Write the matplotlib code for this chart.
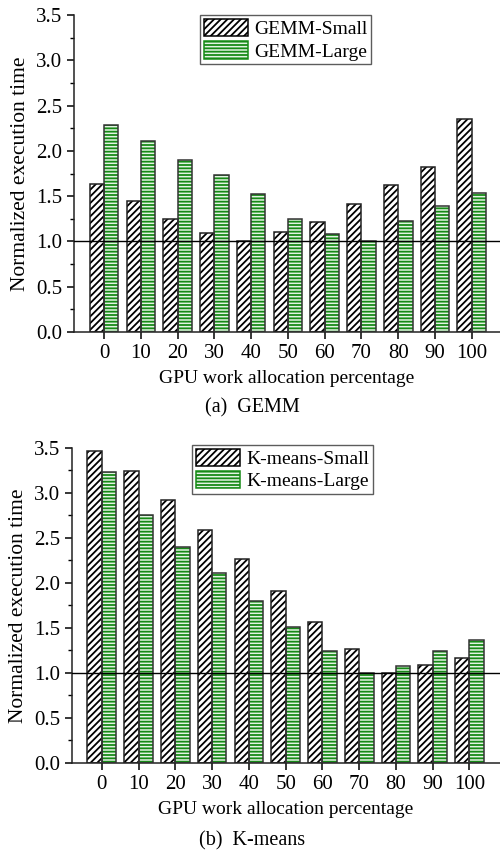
import numpy as np
import matplotlib.pyplot as plt
from matplotlib.ticker import MultipleLocator

plt.rcParams['font.family'] = ['Liberation Serif', 'DejaVu Serif']
plt.rcParams['hatch.linewidth'] = 1.3

# Data
pct = [0, 10, 20, 30, 40, 50, 60, 70, 80, 90, 100]
gemm_small = [1.63, 1.45, 1.25, 1.09, 1.00, 1.10, 1.21, 1.41, 1.62, 1.82, 2.35]
gemm_large = [2.29, 2.11, 1.90, 1.73, 1.52, 1.25, 1.08, 1.00, 1.23, 1.39, 1.53]
km_small = [3.46, 3.24, 2.92, 2.59, 2.27, 1.91, 1.57, 1.26, 1.00, 1.085, 1.16]
km_large = [3.23, 2.75, 2.40, 2.11, 1.80, 1.51, 1.24, 1.00, 1.08, 1.24, 1.36]

green = '#168a16'
w = 0.39


def draw(ax, small, large, names, caption, xlim, leg_anchor, cap_y):
    x = np.arange(len(pct))
    # small: black diagonal hatch
    ax.bar(x - w / 2, small, w, color='white', edgecolor='black',
           hatch='/////', linewidth=0, zorder=2)
    ax.bar(x - w / 2, small, w, color='none', edgecolor='#222222',
           linewidth=1.1, zorder=3)
    # large: green horizontal stripes
    ax.bar(x + w / 2, large, w, color='#e4f3e4', edgecolor=green,
           hatch='-----', linewidth=0, zorder=2)
    ax.bar(x + w / 2, large, w, color='none', edgecolor='#333333',
           linewidth=1.1, zorder=3)
    # legend proxies
    h1 = ax.bar([0], [0], 0, color='white', edgecolor='black', hatch='/////',
                linewidth=1.1)
    h2 = ax.bar([0], [0], 0, color='#e4f3e4', edgecolor=green, hatch='-----',
                linewidth=1.1)
    ax.axhline(1.0, color='black', lw=1.0, zorder=4)

    ax.set_xlim(*xlim)
    ax.set_ylim(0, 3.5)
    ax.set_xticks(x)
    ax.set_xticklabels([str(p) for p in pct])
    ax.yaxis.set_major_locator(MultipleLocator(0.5))
    ax.yaxis.set_minor_locator(MultipleLocator(0.25))
    ax.tick_params(axis='both', which='major', direction='out', length=5,
                   width=1.1, labelsize=15)
    ax.tick_params(axis='y', which='minor', direction='out', length=3, width=1.0)
    ax.tick_params(axis='x', which='minor', bottom=False)
    ax.yaxis.set_major_formatter(plt.FormatStrFormatter('%.1f'))
    for s in ['top', 'right']:
        ax.spines[s].set_visible(False)
    for s in ['left', 'bottom']:
        ax.spines[s].set_linewidth(1.1)
        ax.spines[s].set_color('#222222')
    ax.set_ylabel('Normalized execution time', fontsize=15.5, labelpad=4)
    ax.set_xlabel('GPU work allocation percentage', fontsize=14, labelpad=5)
    leg = ax.legend([h1, h2], names, loc='upper left', bbox_to_anchor=leg_anchor,
                    fontsize=14, frameon=True, fancybox=False, handlelength=2.3,
                    handleheight=1.0, borderpad=0.2, labelspacing=0.15,
                    handletextpad=0.3, borderaxespad=0)
    leg.get_frame().set_edgecolor('#333333')
    leg.get_frame().set_linewidth(1.0)
    fig.text(0.505, cap_y, caption, ha='center', va='center', fontsize=14.5)


fig = plt.figure(figsize=(5.0, 8.58), dpi=100)
ax1 = fig.add_axes([0.148, 0.613, 0.852, 0.3695])
ax2 = fig.add_axes([0.144, 0.111, 0.856, 0.367])

draw(ax1, gemm_small, gemm_large, ['GEMM-Small', 'GEMM-Large'],
     '(a)  GEMM', (-0.82, 10.77), (0.295, 1.0), 1 - 408 / 858)
draw(ax2, km_small, km_large, ['K-means-Small', 'K-means-Large'],
     '(b)  K-means', (-0.81, 10.83), (0.28, 1.01), 1 - 841 / 858)

fig.savefig('out.png', dpi=100)
